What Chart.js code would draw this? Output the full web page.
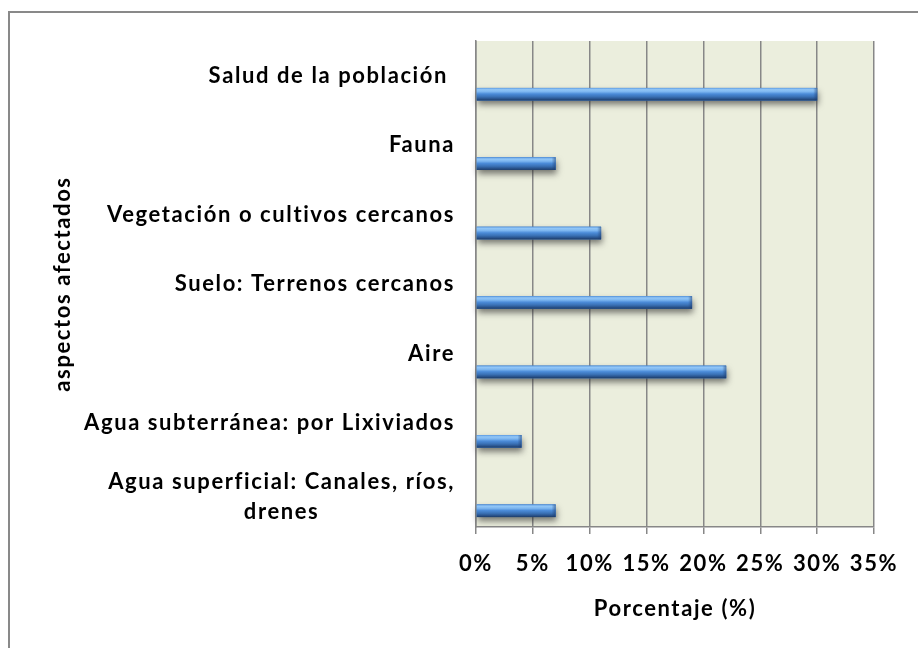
<!DOCTYPE html>
<html>
<head>
<meta charset="utf-8">
<script src="https://cdn.jsdelivr.net/npm/chart.js@4.4.0/dist/chart.umd.min.js"></script>
<style>
  html, body { margin: 0; padding: 0; background: #ffffff; }
  #wrap { position: relative; width: 918px; height: 648px; }
</style>
</head>
<body>
<div id="wrap"><canvas id="chart" width="918" height="648"></canvas></div>
<script>
// Aspectos afectados y porcentaje de respuestas
const categories = [
  'Salud de la población ',
  'Fauna',
  'Vegetación o cultivos cercanos',
  'Suelo: Terrenos cercanos',
  'Aire',
  'Agua subterránea: por Lixiviados',
  ['Agua superficial: Canales, ríos,', 'drenes']
];
const percentages = [30, 7, 11, 19, 22, 4, 7];
// second series of the original sheet, with no values
const emptySeries = [null, null, null, null, null, null, null];
const xTicks = [0, 5, 10, 15, 20, 25, 30, 35];
const xTitle = 'Porcentaje (%)';
const yTitle = 'aspectos afectados';

const FONT = "Lato, 'Open Sans', sans-serif";
const TEXT_SIZE = 22;
const LETTER_SPACING = '1.6px';
const GRID = '#878787';
const PLOT_BG = '#EBEEDD';

Chart.defaults.font.family = FONT;
Chart.defaults.color = '#000000';

// white page, outer frame and plot background
const framePlugin = {
  id: 'frame',
  beforeDraw(chart) {
    const { ctx, chartArea: a } = chart;
    ctx.save();
    ctx.fillStyle = '#ffffff';
    ctx.fillRect(0, 0, chart.width, chart.height);
    ctx.strokeStyle = '#898989';
    ctx.lineWidth = 2;
    ctx.beginPath();
    ctx.moveTo(9, chart.height);
    ctx.lineTo(9, 12);
    ctx.lineTo(chart.width, 12);
    ctx.stroke();
    ctx.fillStyle = PLOT_BG;
    ctx.fillRect(a.left, a.top, a.right - a.left, a.bottom - a.top);
    ctx.restore();
    // the wide letter spacing applies to every text drawn after this point
    ctx.letterSpacing = LETTER_SPACING;
  }
};

// cylinder-like shading of the bars, with a soft drop shadow
function barRects(chart) {
  const rects = [];
  chart.data.datasets.forEach((ds, di) => {
    const meta = chart.getDatasetMeta(di);
    meta.data.forEach((el, i) => {
      if (ds.data[i] === null || ds.data[i] === undefined) return;
      const p = el.getProps(['x', 'y', 'base', 'height'], true);
      const left = Math.min(p.x, p.base), right = Math.max(p.x, p.base);
      rects.push({ left, right, top: p.y - p.height / 2, bottom: p.y + p.height / 2 });
    });
  });
  return rects;
}
const barStylePlugin = {
  id: 'barStyle',
  beforeDatasetsDraw(chart) {
    const { ctx } = chart;
    ctx.save();
    ctx.shadowColor = 'rgba(40,40,40,0.6)';
    ctx.shadowBlur = 6;
    ctx.shadowOffsetX = 1;
    ctx.shadowOffsetY = 4;
    ctx.fillStyle = '#3c6fae';
    barRects(chart).forEach(r => ctx.fillRect(r.left, r.top, r.right - r.left, r.bottom - r.top));
    ctx.restore();
  },
  afterDatasetsDraw(chart) {
    const { ctx } = chart;
    ctx.save();
    barRects(chart).forEach(r => {
      const h = r.bottom - r.top, w = r.right - r.left;
      const g = ctx.createLinearGradient(0, r.top, 0, r.bottom);
      g.addColorStop(0.00, '#5f9de3');
      g.addColorStop(0.14, '#92c6f6');
      g.addColorStop(0.30, '#7db6f0');
      g.addColorStop(0.48, '#4b8bd8');
      g.addColorStop(0.70, '#3a71b5');
      g.addColorStop(0.86, '#2a558f');
      g.addColorStop(1.00, '#1d3b66');
      ctx.fillStyle = g;
      ctx.fillRect(r.left, r.top, w, h);
      // bevelled end cap
      const e = ctx.createLinearGradient(r.right - 4, 0, r.right, 0);
      e.addColorStop(0, 'rgba(30,60,110,0)');
      e.addColorStop(1, 'rgba(30,60,110,0.55)');
      ctx.fillStyle = e;
      ctx.fillRect(r.right - 4, r.top, 4, h);
    });
    ctx.restore();
  }
};

// category labels: right aligned block, multi-line labels centred inside it
const categoryLabelPlugin = {
  id: 'categoryLabels',
  afterDraw(chart, args, opts) {
    const { ctx } = chart;
    const scale = chart.scales.y;
    ctx.save();
    ctx.font = `bold ${TEXT_SIZE}px ${FONT}`;
    ctx.fillStyle = '#000000';
    ctx.textAlign = 'center';
    ctx.textBaseline = 'middle';
    const right = scale.right - opts.gap;
    chart.data.labels.forEach((label, i) => {
      const lines = Array.isArray(label) ? label : [label];
      const y = scale.getPixelForTick(i) + (lines.length > 1 ? opts.multiShift : 0);
      const blockW = Math.max(...lines.map(l => ctx.measureText(l).width));
      const cx = right - blockW / 2;
      lines.forEach((l, j) => {
        ctx.fillText(l, cx, y + (j - (lines.length - 1) / 2) * opts.lineHeight);
      });
    });
    ctx.restore();
  }
};

new Chart(document.getElementById('chart'), {
  type: 'bar',
  data: {
    labels: categories,
    datasets: [
      { label: 'Serie 2', data: emptySeries, backgroundColor: '#4a86cf', borderWidth: 0 },
      { label: 'Porcentaje', data: percentages, backgroundColor: '#4a86cf', borderWidth: 0 }
    ]
  },
  options: {
    indexAxis: 'y',
    responsive: false,
    animation: false,
    devicePixelRatio: 1,
    layout: { padding: { left: 0, right: 44, top: 41, bottom: 0 }, autoPadding: false },
    datasets: { bar: { categoryPercentage: 1.066, barPercentage: 0.34 } },
    plugins: {
      legend: { display: false },
      tooltip: { enabled: false },
      categoryLabels: { gap: 21, lineHeight: 30, multiShift: 5 }
    },
    scales: {
      x: {
        type: 'linear',
        position: 'bottom',
        min: 0,
        max: 35,
        afterBuildTicks: s => { s.ticks = xTicks.map(v => ({ value: v })); },
        ticks: {
          callback: v => v + '%',
          font: { size: TEXT_SIZE, weight: 'bold' },
          padding: 17,
          maxRotation: 0,
          autoSkip: false
        },
        grid: { color: GRID, lineWidth: 1.5, tickLength: 7, drawTicks: true },
        border: { display: true, color: GRID, width: 1.5 },
        title: {
          display: true,
          text: xTitle,
          font: { size: TEXT_SIZE, weight: 'bold' },
          padding: { top: 26, bottom: 26 }
        },
        afterFit: s => { s.height = 648 - 527; }
      },
      y: {
        type: 'category',
        position: 'left',
        ticks: { display: false },
        grid: { display: false, drawTicks: false },
        border: { display: true, color: GRID, width: 1.5 },
        title: {
          display: true,
          text: yTitle,
          font: { size: TEXT_SIZE, weight: 'bold' },
          padding: { top: 50, bottom: 50 }
        },
        afterFit: s => { s.width = 476; }
      }
    }
  },
  plugins: [framePlugin, barStylePlugin, categoryLabelPlugin]
});
</script>
</body>
</html>
